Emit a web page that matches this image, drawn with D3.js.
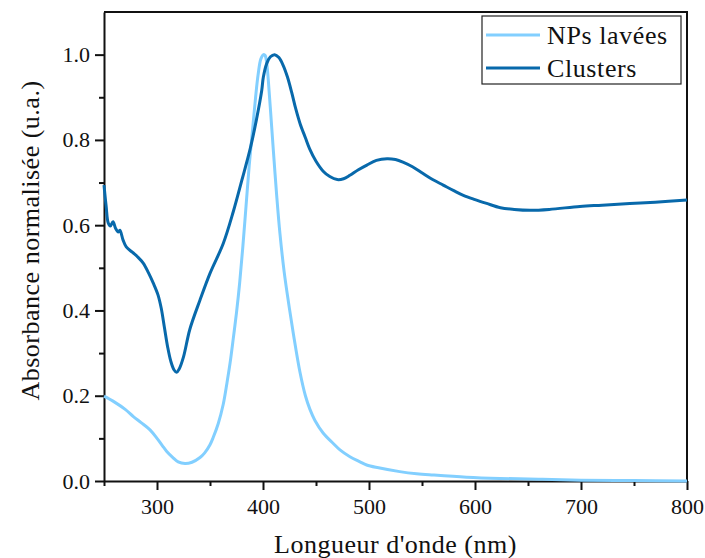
<!DOCTYPE html>
<html lang="fr">

<head>
  <meta charset="UTF-8">
  <title>Absorbance normalisée</title>
  <style>
    body { margin: 0; background: #fff; }
    text { font-family: "Liberation Serif", "Times New Roman", serif; fill: #111; }
    .axis path, .axis line { stroke: #111; stroke-width: 2; }
  </style>
</head>

<body>
  <script src="https://d3js.org/d3.v7.min.js"></script>
  <script>
    // spectre des NPs lavées
    const lambdaNP = [250, 260, 270, 277.7, 285, 293.4, 300, 305, 309, 315, 320, 326.4, 333, 340.6, 345, 350,
      353, 357.8, 362.5, 366, 368.9, 372, 375, 378, 381, 384, 387, 390, 393, 395.5, 398,
      400.5, 402, 403.5, 405, 408.2, 410.5, 412.9, 416, 420, 424, 428.6, 434.9, 440, 444.3, 449, 456.9,
      466.3, 472.6, 482, 491.5, 497.8, 509, 529, 545, 560.7, 592, 623.6, 660, 700, 750, 800];
    const absNP = [0.199, 0.185, 0.168, 0.151, 0.137, 0.12, 0.1, 0.083, 0.07, 0.055, 0.045, 0.041, 0.044, 0.055, 0.066, 0.085,
      0.102, 0.135, 0.18, 0.23, 0.276, 0.335, 0.395, 0.465, 0.55, 0.645, 0.74, 0.82, 0.9, 0.955, 0.99,
      1.0, 0.998, 0.98, 0.94, 0.83, 0.75, 0.67, 0.58, 0.49, 0.42, 0.346, 0.255, 0.2, 0.168, 0.142, 0.112,
      0.088, 0.073, 0.057, 0.045, 0.0375, 0.031, 0.022, 0.017, 0.014, 0.009, 0.006, 0.004, 0.002, 0.001, 0.0];

    // spectre des clusters
    const lambdaCl = [250, 252, 254, 256, 258.5, 261, 263.5, 265, 268, 271, 277, 282, 287, 292, 296.5, 301, 304, 307,
      310, 313, 316, 318.5, 321, 325, 331, 340.5, 350, 362.5, 372, 380, 388, 394, 398.8, 400.3, 403.5, 407,
      411, 415, 419, 423, 427, 431, 435, 440, 444, 450, 457, 463, 470, 476, 482, 490, 498, 507, 517, 525, 532, 541,
      551, 560, 570, 580, 589, 600, 611, 624, 637, 652, 670, 699, 720, 746, 770, 800];
    const absCl = [0.694, 0.645, 0.605, 0.598, 0.608, 0.592, 0.584, 0.588, 0.565, 0.549, 0.536, 0.525, 0.511, 0.488, 0.464,
      0.436, 0.405, 0.36, 0.315, 0.281, 0.261, 0.255, 0.263, 0.291, 0.356, 0.424, 0.487, 0.557, 0.632, 0.705, 0.78,
      0.85, 0.916, 0.947, 0.979, 0.995, 1.0, 0.993, 0.975, 0.948, 0.912, 0.872, 0.838, 0.805, 0.779, 0.75, 0.726, 0.714,
      0.707, 0.709, 0.717, 0.73, 0.741, 0.752, 0.756, 0.754, 0.748, 0.737, 0.721, 0.707, 0.694, 0.681, 0.67, 0.66,
      0.651, 0.641, 0.637, 0.635, 0.637, 0.644, 0.647, 0.651, 0.654, 0.659];

    const seriesNames = ["NPs lavées", "Clusters"];
    const seriesColors = ["#82cfff", "#0869ab"];
    const xMajor = [300, 400, 500, 600, 700, 800];
    const xMinor = [250, 350, 450, 550, 650, 750];
    const yMajor = [0, 0.2, 0.4, 0.6, 0.8, 1.0];
    const yMinor = [0.1, 0.3, 0.5, 0.7, 0.9];

    const margin = { top: 12, right: 18, bottom: 77, left: 104 },
      width = 705 - margin.left - margin.right,
      height = 558 - margin.top - margin.bottom;

    const svg = d3.select("body")
      .append("svg")
      .attr("width", 705)
      .attr("height", 558)
      .append("g")
      .attr("transform", `translate(${margin.left},${margin.top})`);

    const x = d3.scaleLinear().domain([250, 800]).range([0, width]);
    const y = d3.scaleLinear().domain([0, 1.1]).range([height, 0]);

    // graduations secondaires
    svg.append("g")
      .attr("class", "axis")
      .attr("transform", `translate(0,${height})`)
      .call(d3.axisBottom(x).tickValues(xMinor).tickSize(5).tickFormat(""))
      .select(".domain").remove();
    svg.append("g")
      .attr("class", "axis")
      .call(d3.axisLeft(y).tickValues(yMinor).tickSize(5).tickFormat(""))
      .select(".domain").remove();

    const xAxis = svg.append("g")
      .attr("class", "axis")
      .attr("transform", `translate(0,${height})`)
      .call(d3.axisBottom(x).tickValues(xMajor).tickSize(9).tickPadding(8).tickSizeOuter(0));
    xAxis.selectAll("text").style("font-size", "22px");

    const yAxis = svg.append("g")
      .attr("class", "axis")
      .call(d3.axisLeft(y).tickValues(yMajor).tickSize(9).tickPadding(5).tickSizeOuter(0)
        .tickFormat(d3.format(".1f")));
    yAxis.selectAll("text").style("font-size", "22px");

    // cadre haut / droite
    svg.append("path")
      .attr("d", `M0,0H${width}V${height}`)
      .attr("fill", "none")
      .attr("stroke", "#111")
      .attr("stroke-width", 2);

    const line = d3.line()
      .x(d => x(d[0]))
      .y(d => y(d[1]))
      .curve(d3.curveCatmullRom.alpha(0.5));

    const series = [
      d3.zip(lambdaNP, absNP),
      d3.zip(lambdaCl, absCl)
    ];

    svg.selectAll(".spectre")
      .data(series)
      .enter()
      .append("path")
      .attr("class", "spectre")
      .attr("d", line)
      .attr("fill", "none")
      .attr("stroke", (d, i) => seriesColors[i])
      .attr("stroke-width", 3)
      .attr("stroke-linejoin", "round");

    // titres des axes
    svg.append("text")
      .attr("x", width / 2)
      .attr("y", height + 72)
      .attr("text-anchor", "middle")
      .style("font-size", "26px")
      .style("letter-spacing", "0.5px")
      .text("Longueur d'onde (nm)");

    svg.append("text")
      .attr("transform", `translate(${39 - margin.left},${height / 2 - 6}) rotate(-90)`)
      .attr("text-anchor", "middle")
      .style("font-size", "26px")
      .style("letter-spacing", "0.5px")
      .text("Absorbance normalisée (u.a.)");

    // légende
    const legend = svg.append("g")
      .attr("transform", `translate(${482 - margin.left},${16 - margin.top})`);

    legend.append("rect")
      .attr("width", 199)
      .attr("height", 68)
      .attr("fill", "#fff")
      .attr("stroke", "#222")
      .attr("stroke-width", 1.2);

    seriesNames.forEach((name, i) => {
      const g = legend.append("g").attr("transform", `translate(0,${19 + i * 33})`);
      g.append("line")
        .attr("x1", 4).attr("x2", 58)
        .attr("stroke", seriesColors[i])
        .attr("stroke-width", 3);
      g.append("text")
        .attr("x", 65)
        .attr("y", 9)
        .style("font-size", "26px")
        .style("letter-spacing", "0.6px")
        .text(name);
    });
  </script>
</body>

</html>
